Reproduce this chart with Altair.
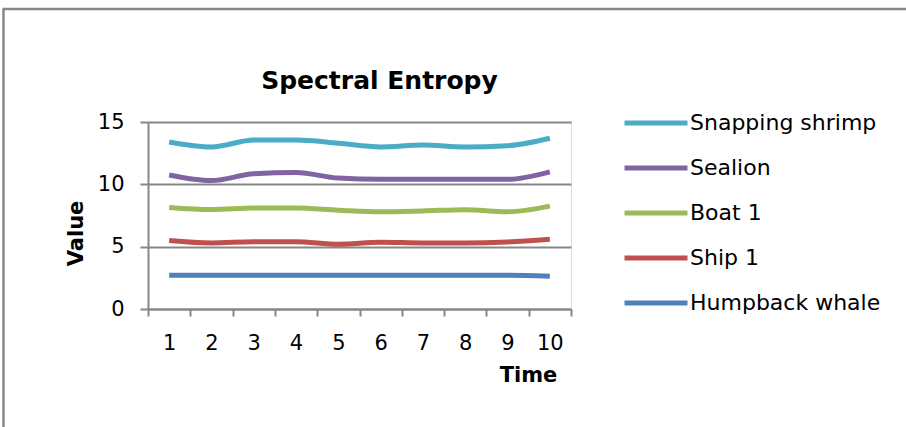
import altair as alt
import pandas as pd

times = [1, 2, 3, 4, 5, 6, 7, 8, 9, 10]
series = ["Snapping shrimp", "Sealion", "Boat 1", "Ship 1", "Humpback whale"]
snapping_shrimp = [13.4, 13.0, 13.55, 13.55, 13.3, 13.0, 13.15, 13.0, 13.1, 13.7]
sealion = [10.75, 10.3, 10.85, 10.95, 10.5, 10.4, 10.4, 10.4, 10.4, 11.0]
boat_1 = [8.15, 7.98, 8.1, 8.1, 7.93, 7.8, 7.87, 7.97, 7.8, 8.25]
ship_1 = [5.5, 5.3, 5.4, 5.4, 5.2, 5.35, 5.3, 5.3, 5.38, 5.6]
humpback_whale = [2.7, 2.7, 2.7, 2.7, 2.7, 2.7, 2.7, 2.7, 2.7, 2.62]
colors = ["#4BACC6", "#8064A2", "#9BBB59", "#C0504D", "#4F81BD"]

values = [snapping_shrimp, sealion, boat_1, ship_1, humpback_whale]
rows = []
for name, vals in zip(series, values):
    for t, v in zip(times, vals):
        rows.append({"Time": t, "Value": v, "Series": name})
df = pd.DataFrame(rows)

FONT = "DejaVu Sans"
GRAY = "#878787"

lines = alt.Chart(df).mark_line(strokeWidth=5, interpolate="monotone").encode(
    x=alt.X(
        "Time:O",
        scale=alt.Scale(type="band", paddingInner=0, paddingOuter=0),
        axis=alt.Axis(
            title="Time", labelAngle=0, tickBand="extent", tickSize=7, tickWidth=2,
            tickColor=GRAY, domainColor=GRAY, domainWidth=2, grid=False,
            labelFontSize=21, labelPadding=16, labelColor="#000000", labelFont=FONT,
            titleFont=FONT, titleFontSize=21, titleFontWeight="bold", titleColor="#000000",
            titleX=380, titleY=66, titleBaseline="middle", titleAlign="center",
        ),
    ),
    y=alt.Y(
        "Value:Q",
        scale=alt.Scale(domain=[0, 15], nice=False, zero=True),
        axis=alt.Axis(
            title="Value", values=[0, 5, 10, 15], grid=True, gridColor=GRAY, gridWidth=2,
            tickSize=8, tickWidth=2, tickColor=GRAY, domainColor=GRAY, domainWidth=2,
            labelFontSize=21, labelPadding=16, labelColor="#000000", labelFont=FONT,
            titleFont=FONT, titleFontSize=21, titleFontWeight="bold", titleColor="#000000",
            titleX=-72, titleY=111, titleBaseline="middle", titleAlign="center",
        ),
    ),
    color=alt.Color(
        "Series:N",
        sort=series,
        scale=alt.Scale(domain=series, range=colors),
        legend=alt.Legend(
            title=None, orient="none", legendX=474, legendY=-33,
            symbolType="stroke", symbolSize=3969, symbolStrokeWidth=5,
            labelFontSize=22, labelFont=FONT, labelColor="#000000", labelOffset=0,
            labelLimit=400, rowPadding=-1,
        ),
    ),
)

frame_left = alt.Chart(alt.Data(values=[{}])).mark_rule(color=GRAY, strokeWidth=2.5).encode(
    x=alt.value(-144.5), y=alt.value(-113), y2=alt.value(310)
)
frame_top = alt.Chart(alt.Data(values=[{}])).mark_rule(color=GRAY, strokeWidth=2.5).encode(
    x=alt.value(-145.5), x2=alt.value(770), y=alt.value(-113)
)

chart = alt.layer(lines, frame_left, frame_top).properties(
    width=423,
    height=187,
    autosize=alt.AutoSizeParams(type="none"),
    padding={"left": 148, "top": 122, "right": 335, "bottom": 118},
    title=alt.TitleParams(
        "Spectral Entropy", font=FONT, fontSize=25, fontWeight="bold", color="#000000",
        anchor="middle", dx=20, offset=28, dy=114,
    ),
).configure_view(stroke=None).configure(background="#ffffff")

chart.save("out.html", embed_options={"renderer": "svg", "actions": False})
